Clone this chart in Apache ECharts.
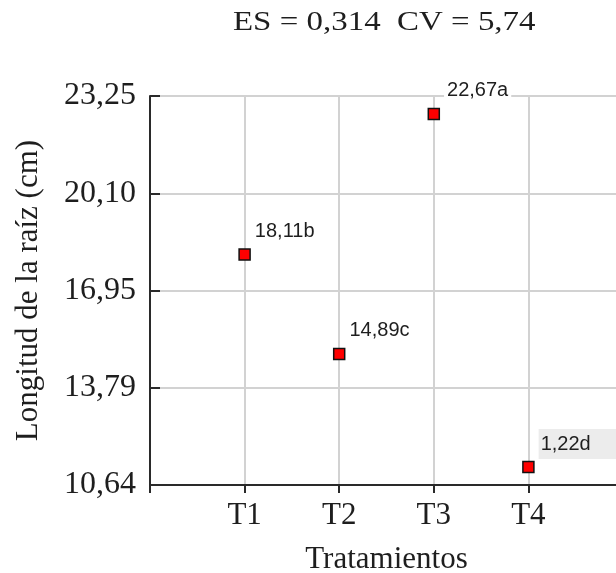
<!DOCTYPE html>
<html>
<head>
<meta charset="utf-8">
<script src="https://cdn.jsdelivr.net/npm/echarts@6/dist/echarts.min.js"></script>
<style>
  html, body { margin: 0; padding: 0; background: #ffffff; }
  #chart { width: 616px; height: 573px; }
</style>
</head>
<body>
<div id="chart"></div>
<script>
// Root length per treatment, with the significance letter shown next to each mean
const treatments = ['T1', 'T2', 'T3', 'T4'];
const rootLength = [18.11, 14.89, 22.67, 11.22];
const pointLabels = ['18,11b', '14,89c', '22,67a', '1,22d'];

// Y axis ticks and their printed labels (decimal comma)
const yTicks = [10.64, 13.79, 16.95, 20.10, 23.25];
const yTickLabels = ['10,64', '13,79', '16,95', '20,10', '23,25'];

const titleText = 'ES = 0,314  CV = 5,74';
const xName = 'Tratamientos';
const yName = 'Longitud de la raíz (cm)';

// Empty slots at both ends leave a half-step margin around the four treatments
const xCategories = [''].concat(treatments, ['']);

const serif = "'Liberation Serif', 'Times New Roman', serif";
const sans = "'Liberation Sans', Arial, sans-serif";
const ink = '#1e1e1e';

const yMin = yTicks[0];
const yMax = yTicks[yTicks.length - 1];
const yStep = (yMax - yMin) / (yTicks.length - 1);

const chart = echarts.init(document.getElementById('chart'), null, { renderer: 'canvas' });

chart.setOption({
  animation: false,
  backgroundColor: '#ffffff',
  // Header line with the standard error and coefficient of variation, slightly widened
  graphic: [{
    type: 'text',
    x: 233,
    y: 9,
    scaleX: 1.22,
    style: {
      text: titleText,
      font: "27px 'Liberation Serif', 'Times New Roman', serif",
      fill: ink
    }
  }],
  grid: { left: 150, top: 96, bottom: 88, width: 473, containLabel: false, outerBoundsMode: 'none' },
  xAxis: {
    type: 'category',
    data: xCategories,
    boundaryGap: false,
    name: xName,
    nameLocation: 'middle',
    nameGap: 59,
    nameTextStyle: { fontFamily: serif, fontSize: 31, color: ink },
    axisLine: { show: true, lineStyle: { color: '#2a2a2a', width: 2 } },
    axisTick: { show: true, inside: false, length: 8, alignWithLabel: true, lineStyle: { color: '#2a2a2a', width: 2 } },
    axisLabel: { fontFamily: serif, fontSize: 31, color: ink, margin: 15, interval: 0 },
    splitLine: { show: true, lineStyle: { color: '#d2d2d2', width: 2 } }
  },
  yAxis: {
    type: 'value',
    min: yMin,
    max: yMax,
    interval: yStep,
    name: yName,
    nameLocation: 'middle',
    nameRotate: 90,
    nameGap: 106,
    nameTextStyle: { fontFamily: serif, fontSize: 31, color: ink },
    axisLine: { show: true, lineStyle: { color: '#2a2a2a', width: 2 } },
    axisTick: { show: true, inside: true, length: 10, lineStyle: { color: '#2a2a2a', width: 2 } },
    axisLabel: {
      fontFamily: serif,
      fontSize: 32,
      color: ink,
      margin: 14,
      formatter: (value, index) => yTickLabels[index]
    },
    splitLine: { show: true, lineStyle: { color: '#d2d2d2', width: 2 } }
  },
  series: [{
    type: 'scatter',
    data: treatments.map((t, i) => [t, rootLength[i]]),
    symbol: 'rect',
    symbolSize: 11,
    itemStyle: { color: '#ff0000', borderColor: '#111111', borderWidth: 1.5, opacity: 1 },
    label: {
      show: true,
      position: 'right',
      distance: 4,
      offset: [0, -23],
      formatter: (p) => {
        const txt = pointLabels[p.dataIndex];
        if (p.dataIndex === 2) return '{w|' + txt + '}';
        if (p.dataIndex === 3) return '{g|' + txt + '}';
        return '{n|' + txt + '}';
      },
      rich: {
        n: { fontFamily: sans, fontSize: 20, color: ink },
        w: { fontFamily: sans, fontSize: 20, color: ink, backgroundColor: '#ffffff', padding: [1, 3, 1, 3] },
        g: { fontFamily: sans, fontSize: 20, color: ink, backgroundColor: '#ececec', padding: [5, 40, 5, 2] }
      }
    },
    z: 5
  }]
});
</script>
</body>
</html>
